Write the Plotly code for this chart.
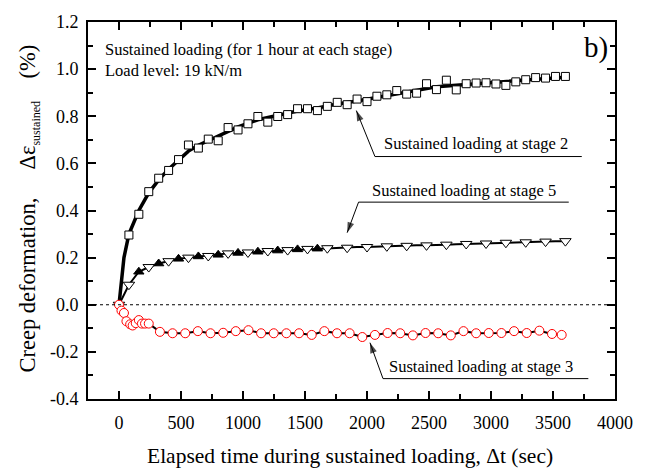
import plotly.graph_objects as go

# ---- Stage 2: measured creep band and square markers (s, %) ----
s2_band_t = [0, 20, 40, 80, 160, 240, 320, 400, 480, 560, 640, 720, 800, 960, 1120,
             1280, 1440, 1600, 1760, 1920, 2080, 2240, 2400, 2560, 2720, 2880, 3040,
             3200, 3360, 3520, 3600]
s2_band_v = [0.0, 0.12, 0.2, 0.3, 0.4, 0.475, 0.53, 0.575, 0.615, 0.652, 0.677, 0.697,
             0.715, 0.755, 0.785, 0.805, 0.822, 0.835, 0.852, 0.865, 0.88, 0.897, 0.912,
             0.925, 0.932, 0.938, 0.942, 0.948, 0.957, 0.963, 0.966]
s2_t = [80, 160, 240, 320, 400, 480, 560, 640, 720, 800, 880, 960, 1040, 1120, 1200,
        1280, 1360, 1440, 1520, 1600, 1680, 1760, 1840, 1920, 2000, 2080, 2160, 2240,
        2320, 2400, 2480, 2560, 2640, 2720, 2800, 2880, 2960, 3040, 3120, 3200, 3280,
        3360, 3440, 3520, 3600]
s2_v = [0.296, 0.384, 0.48, 0.537, 0.57, 0.616, 0.678, 0.665, 0.703, 0.696, 0.752,
        0.742, 0.768, 0.799, 0.775, 0.799, 0.807, 0.832, 0.832, 0.824, 0.842, 0.859,
        0.849, 0.873, 0.862, 0.885, 0.891, 0.909, 0.894, 0.898, 0.938, 0.913, 0.953,
        0.912, 0.938, 0.941, 0.942, 0.937, 0.931, 0.946, 0.955, 0.964, 0.962, 0.969,
        0.969]

# ---- Stage 5: creep curve sampled every 80 s ----
s5_t = [0, 80, 160, 240, 320, 400, 480, 560, 640, 720, 800, 880, 960, 1040, 1120, 1200,
        1280, 1360, 1440, 1520, 1600, 1680, 1760, 1840, 1920, 2000, 2080, 2160, 2240,
        2320, 2400, 2480, 2560, 2640, 2720, 2800, 2880, 2960, 3040, 3120, 3200, 3280,
        3360, 3440, 3520, 3600]
s5_v = [0.0, 0.085, 0.14, 0.16, 0.175, 0.185, 0.195, 0.2, 0.205, 0.207, 0.212, 0.218,
        0.22, 0.222, 0.225, 0.228, 0.23, 0.232, 0.235, 0.237, 0.238, 0.24, 0.24, 0.242,
        0.245, 0.245, 0.247, 0.248, 0.25, 0.25, 0.252, 0.252, 0.255, 0.255, 0.257,
        0.258, 0.258, 0.26, 0.262, 0.263, 0.265, 0.265, 0.267, 0.268, 0.27, 0.27]

# ---- Stage 3: circle readings (s, %) ----
s3_t = [0, 20, 40, 60, 90, 110, 135, 160, 185, 210, 240, 330, 432, 534, 636, 738, 840,
        942, 1044, 1146, 1248, 1350, 1452, 1554, 1656, 1758, 1860, 1962, 2064, 2166,
        2268, 2370, 2472, 2574, 2676, 2778, 2880, 2982, 3084, 3186, 3288, 3390, 3492,
        3570]
s3_v = [0.0, -0.025, -0.035, -0.07, -0.083, -0.088, -0.078, -0.065, -0.08, -0.08, -0.08,
        -0.115, -0.121, -0.121, -0.112, -0.121, -0.119, -0.112, -0.108, -0.121, -0.121,
        -0.121, -0.121, -0.128, -0.112, -0.121, -0.121, -0.137, -0.128, -0.12, -0.121,
        -0.13, -0.12, -0.121, -0.13, -0.112, -0.121, -0.12, -0.12, -0.112, -0.12, -0.11,
        -0.124, -0.128]

x_ticks = [0, 500, 1000, 1500, 2000, 2500, 3000, 3500, 4000]
y_ticks = [-0.4, -0.2, 0.0, 0.2, 0.4, 0.6, 0.8, 1.0, 1.2]
y_labels = ["-0.4", "-0.2", "0.0", "0.2", "0.4", "0.6", "0.8", "1.0", "1.2"]

FONT = "Liberation Serif"

# hollow down-triangles on 80 + 160k (and t = 0), filled up-triangles in between
down_idx = [0] + list(range(1, len(s5_t), 2))
up_idx = list(range(2, 21, 2))

fig = go.Figure()

fig.add_trace(go.Scatter(x=s2_band_t, y=s2_band_v, mode="lines",
                         line=dict(color="black", width=3.5)))
fig.add_trace(go.Scatter(x=s2_t, y=s2_v, mode="markers",
                         marker=dict(symbol="square", size=8, color="white",
                                     line=dict(color="black", width=1))))

fig.add_trace(go.Scatter(x=s5_t, y=s5_v, mode="lines",
                         line=dict(color="black", width=2)))
fig.add_trace(go.Scatter(x=[s5_t[i] for i in up_idx], y=[s5_v[i] for i in up_idx],
                         mode="markers",
                         marker=dict(symbol="triangle-up", size=9, color="black",
                                     line=dict(color="black", width=1))))
fig.add_trace(go.Scatter(x=[s5_t[i] for i in down_idx], y=[s5_v[i] for i in down_idx],
                         mode="markers",
                         marker=dict(symbol="triangle-down", size=10, color="white",
                                     line=dict(color="black", width=1))))

fig.add_trace(go.Scatter(x=s3_t, y=s3_v, mode="lines",
                         line=dict(color="black", width=2)))
fig.add_trace(go.Scatter(x=s3_t, y=s3_v, mode="markers",
                         marker=dict(symbol="circle", size=9, color="white",
                                     line=dict(color="red", width=1))))

# dotted zero reference
fig.add_shape(type="line", xref="paper", x0=0, x1=1, yref="y", y0=0, y1=0,
              line=dict(color="black", width=1, dash="dot"))

# callouts: (text centre, underline span, arrow head)
callouts = [
    ("Sustained loading at stage 2", (2882, 0.686), (2064, 3732, 0.629), (1914, 0.824)),
    ("Sustained loading at stage 5", (2786, 0.4835), (1932, 3627, 0.4355), (1840, 0.306)),
    ("Sustained loading at stage 3", (2917, -0.262), (2129, 3785, -0.3135), (2024, -0.161)),
]
for text, (tx, ty), (u0, u1, uy), (hx, hy) in callouts:
    fig.add_annotation(x=tx, y=ty, text=text, showarrow=False,
                       font=dict(family=FONT, size=16.5, color="black"))
    # underline + leader line ending in an arrow head
    fig.add_trace(go.Scatter(x=[u1, u0, hx], y=[uy, uy, hy], mode="lines+markers",
                             line=dict(color="black", width=1),
                             marker=dict(symbol="arrow", size=[0, 0, 11],
                                         angleref="previous", color="black",
                                         line=dict(width=0)),
                             cliponaxis=False))

fig.add_annotation(xref="paper", yref="paper", x=0.028, y=0.928, xanchor="left",
                   yanchor="middle", showarrow=False,
                   text="Sustained loading (for 1 hour at each stage)",
                   font=dict(family=FONT, size=16.5, color="black"))
fig.add_annotation(xref="paper", yref="paper", x=0.028, y=0.871, xanchor="left",
                   yanchor="middle", showarrow=False, text="Load level: 19 kN/m",
                   font=dict(family=FONT, size=16.5, color="black"))
fig.add_annotation(xref="paper", yref="paper", x=0.963, y=0.932, xanchor="center",
                   yanchor="middle", showarrow=False, text="b)",
                   font=dict(family=FONT, size=29, color="black"))

# axis titles
fig.add_annotation(xref="paper", yref="paper", x=0.497, y=-0.152, xanchor="center",
                   yanchor="middle", showarrow=False,
                   text="Elapsed time during sustained loading, \u0394t (sec)",
                   font=dict(family=FONT, size=21.5, color="black"))
fig.add_annotation(xref="paper", yref="paper", x=-0.112, y=0.505, xanchor="center",
                   yanchor="middle", showarrow=False, textangle=-90,
                   text=("Creep deformation,\u00a0\u00a0\u00a0\u00a0\u00a0\u0394\u03b5"
                         "<sub><span style='font-size:12px'>sustained</span></sub>"
                         "\u00a0\u00a0\u00a0\u00a0(%)"),
                   font=dict(family=FONT, size=22.5, color="black"))

axis_common = dict(showgrid=False, zeroline=False, showline=True, linecolor="black",
                   linewidth=2, mirror="allticks", ticks="inside", ticklen=8,
                   tickwidth=1.5, tickcolor="black",
                   tickfont=dict(family=FONT, size=18, color="black"))

fig.update_xaxes(range=[-250, 4000], tickvals=x_ticks,
                 ticktext=[str(v) for v in x_ticks], ticklabelstandoff=6,
                 minor=dict(dtick=250, tick0=0, ticks="inside", ticklen=5,
                            tickwidth=1.5, tickcolor="black"),
                 **axis_common)
fig.update_yaxes(range=[-0.4, 1.2], tickvals=y_ticks, ticktext=y_labels,
                 ticklabelstandoff=4,
                 minor=dict(dtick=0.1, tick0=0, ticks="inside", ticklen=5,
                            tickwidth=1.5, tickcolor="black"),
                 **axis_common)

fig.update_layout(width=645, height=472, showlegend=False,
                  margin=dict(l=88, r=18, t=17, b=73),
                  paper_bgcolor="white", plot_bgcolor="white",
                  font=dict(family=FONT, color="black"))

fig.write_html("out.html")
